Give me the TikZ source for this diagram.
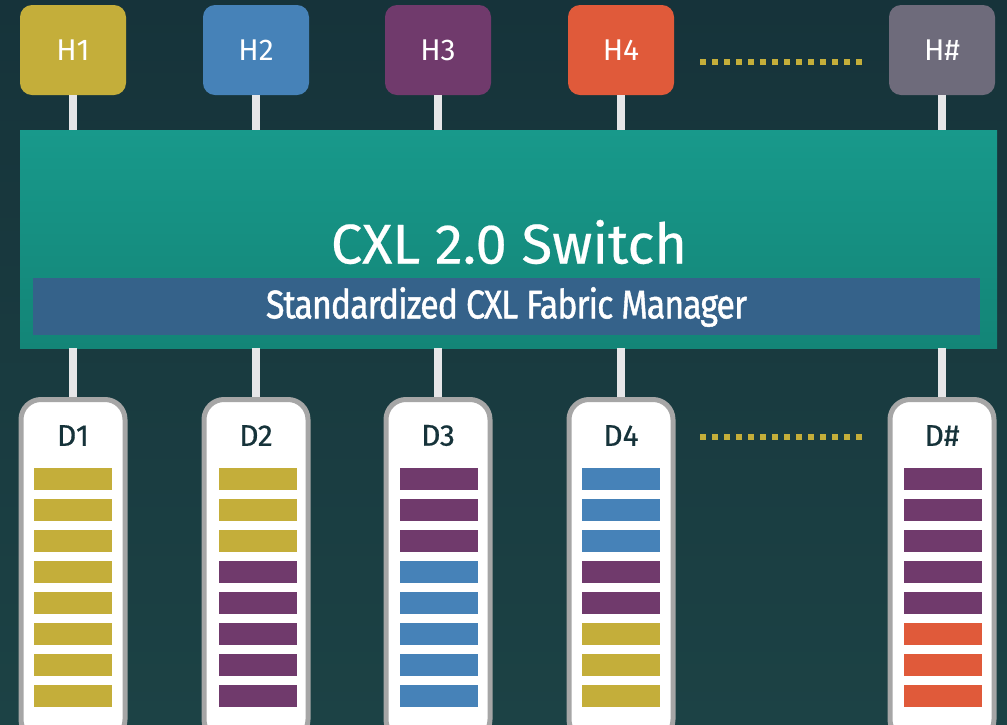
\documentclass[tikz,border=0pt]{standalone}
\usepackage{fontspec}
\setmainfont{Fira Sans}
\usetikzlibrary{positioning}
\definecolor{bgtop}{HTML}{16333A}
\definecolor{bgbot}{HTML}{1C4245}
\definecolor{swtop}{HTML}{18998B}
\definecolor{swbot}{HTML}{138577}
\definecolor{fmblue}{HTML}{35628A}
\definecolor{cy}{HTML}{C4AE3A}
\definecolor{cb}{HTML}{4682B8}
\definecolor{cp}{HTML}{703A6C}
\definecolor{co}{HTML}{E05A3A}
\definecolor{cg}{HTML}{6E6B7B}
\definecolor{stemgray}{HTML}{E6E6E8}
\definecolor{rimgray}{HTML}{A6A6A6}
\tikzset{
  host/.style={rounded corners=12pt,minimum width=106pt,minimum height=90pt,
    inner sep=0pt,text=white,font=\fontsize{30}{34}\selectfont},
  dev/.style={draw=rimgray,line width=5pt,fill=white,rounded corners=20pt,
    minimum width=104pt,minimum height=340pt,inner sep=0pt,outer sep=0pt,anchor=north},
  devlabel/.style={text=bgtop,font=\fontsize{30}{34}\selectfont\addfontfeature{FakeBold=0.6}},
  stem/.style={draw=stemgray,line width=8pt},
  dots/.style={draw=cy,line width=6pt,dash pattern=on 6pt off 6pt},
}
% eight memory strips under a device, colours top to bottom
\newcommand\memstrips[2]{%
  \foreach \c [count=\i from 0] in {#2}
    \fill[\c] ({#1-39},{468+31*\i}) rectangle ++(78,22);}
\begin{document}
\begin{tikzpicture}[x=1pt,y=-1pt]
  \shade[top color=bgtop,bottom color=bgbot] (0,0) rectangle (1007,724);
  \clip (0,0) rectangle (1007,724);
  \useasboundingbox (0,0) rectangle (1007,724);
  % hosts
  \node[host,fill=cy] (h1) at (73,50) {H1};
  \node[host,fill=cb] (h2) at (256,50) {H2};
  \node[host,fill=cp] (h3) at (438,50) {H3};
  \node[host,fill=co] (h4) at (621,50) {H4};
  \node[host,fill=cg] (hn) at (942,50) {H\#};
  \draw[dots] (700,62) -- (862,62);
  % switch
  \node[top color=swtop,bottom color=swbot,minimum width=977pt,minimum height=218pt,
        inner sep=0pt,outer sep=0pt] (sw) at (508.5,239) {};
  \node[text=white,font=\fontsize{56}{60}\selectfont\addfontfeature{FakeBold=0.4}] (swname)
       at (509,242) {CXL 2.0 Switch};
  \node[fill=fmblue,minimum width=947pt,minimum height=57pt,inner sep=0pt] (fm) at (506.5,306) {};
  \node[text=white,font=\fontsize{40}{44}\selectfont\addfontfeature{FakeBold=1.2}] at ([yshift=-1pt]fm)
       {\scalebox{0.85}[1]{\addfontfeature{LetterSpace=-3}Standardized CXL Fabric Manager}};
  % devices
  \node[dev] (d1) at (73,399.5) {};
  \node[dev] (d2) at (256,399.5) {};
  \node[dev] (d3) at (438,399.5) {};
  \node[dev] (d4) at (621,399.5) {};
  \node[dev] (dn) at (942,399.5) {};
  \draw[dots] (700,437) -- (862,437);
  \foreach \n/\t in {d1/D1,d2/D2,d3/D3,d4/D4,dn/D\#}
    \node[devlabel] at ([yshift=-36pt]\n.north) {\t};
  % links
  \foreach \h in {h1,h2,h3,h4,hn}
    \draw[stem] (\h.south) -- (\h.south |- sw.north);
  \foreach \d in {d1,d2,d3,d4,dn}
    \draw[stem,shorten >=2.5pt] (sw.south -| \d.north) -- (\d.north);
  % memory
  \memstrips{73}{cy,cy,cy,cy,cy,cy,cy,cy}
  \memstrips{258}{cy,cy,cy,cp,cp,cp,cp,cp}
  \memstrips{439}{cp,cp,cp,cb,cb,cb,cb,cb}
  \memstrips{621}{cb,cb,cb,cp,cp,cy,cy,cy}
  \memstrips{943}{cp,cp,cp,cp,cp,co,co,co}
\end{tikzpicture}
\end{document}
